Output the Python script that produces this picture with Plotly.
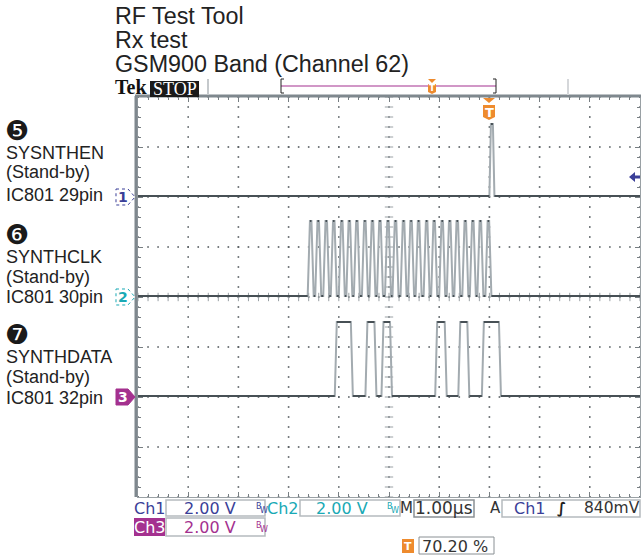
import plotly.graph_objects as go

W, H = 644, 558
LEFT, RIGHT, TOP, BOTTOM = 138, 640, 97, 497

# Time base in microseconds from the left graticule edge, vertical scale in divisions from the bottom
time_start, time_end = 0, 10
div_bottom, div_top = 0, 8

ch1_base, ch1_high = 6.02, 7.46
ch2_base, ch2_high = 4.02, 5.52
ch3_base, ch3_high = 2.02, 3.50

ch1_pulses = [(7.03, 7.07)]
ch2_pulses = [(c - 0.015, c + 0.015) for c in [
    3.44, 3.59, 3.75, 3.90, 4.06, 4.21, 4.36, 4.52, 4.67, 4.82, 4.98, 5.13,
    5.29, 5.44, 5.59, 5.75, 5.90, 6.06, 6.21, 6.36, 6.52, 6.67, 6.82, 6.98]]
ch3_pulses = [(3.96, 4.24), (4.57, 4.71), (4.89, 5.02), (5.96, 6.11), (6.42, 6.56), (6.89, 7.19)]

title_lines = ["RF Test Tool", "Rx test", "GSM900 Band (Channel 62)"]
ch_labels = [
    ("❺", "SYSNTHEN", "(Stand-by)", "IC801 29pin"),
    ("❻", "SYNTHCLK", "(Stand-by)", "IC801 30pin"),
    ("❼", "SYNTHDATA", "(Stand-by)", "IC801 32pin"),
]

BLUE, TEAL, MAG, ORANGE = "#3b3f98", "#19a9b5", "#a4318f", "#ee8b2e"
EDGE, TRACE, GRID, WALL = "#a3abb0", "#475055", "#6c7478", "#7f888e"
SANS, MONO, SERIF = "Liberation Sans", "DejaVu Sans", "Liberation Serif"


def px(x):
    return x / W


def py(y):
    return 1 - y / H


def waveform(pulses, base, high, rise):
    xs, ys = [time_start], [base]
    for a, b in pulses:
        xs += [a - rise, a, b, b + rise]
        ys += [base, high, high, base]
    xs.append(time_end)
    ys.append(base)
    return xs, ys


def flat_parts(xs, ys):
    ox, oy = [], []
    for i in range(len(xs) - 1):
        if ys[i] == ys[i + 1]:
            ox += [xs[i], xs[i + 1], None]
            oy += [ys[i], ys[i + 1], None]
    return ox, oy


fig = go.Figure()

# graticule dots: every fifth of a division along each division line
gx, gy = [], []
for d in range(0, 11):
    for k in range(0, 41):
        gx.append(d)
        gy.append(k / 5)
for d in range(0, 9):
    for k in range(0, 51):
        gx.append(k / 5)
        gy.append(d)
fig.add_trace(go.Scatter(x=gx, y=gy, mode="markers", hoverinfo="skip",
                         marker=dict(symbol="square", size=1.6, color="#555c60", line=dict(width=0))))

# centre-line graticule ticks
cx = [i / 5 for i in range(51)]
cy = [i / 5 for i in range(41)]
fig.add_trace(go.Scatter(x=cx, y=[4] * len(cx), mode="markers", hoverinfo="skip",
                         marker=dict(symbol="line-ns", size=6, line=dict(color="#9aa1a5", width=1))))
fig.add_trace(go.Scatter(x=[5] * len(cy), y=cy, mode="markers", hoverinfo="skip",
                         marker=dict(symbol="line-ew", size=6, line=dict(color="#9aa1a5", width=1))))

for pulses, base, high, rise in [
    (ch1_pulses, ch1_base, ch1_high, 0.03),
    (ch2_pulses, ch2_base, ch2_high, 0.045),
    (ch3_pulses, ch3_base, ch3_high, 0.04),
]:
    xs, ys = waveform(pulses, base, high, rise)
    fig.add_trace(go.Scatter(x=xs, y=ys, mode="lines", line=dict(color=EDGE, width=2), hoverinfo="skip"))
    fx, fy = flat_parts(xs, ys)
    fig.add_trace(go.Scatter(x=fx, y=fy, mode="lines", line=dict(color=TRACE, width=2), hoverinfo="skip"))

axis_common = dict(showgrid=False, zeroline=False, showticklabels=False, showline=True, linecolor="#9aa1a5",
                   linewidth=1, mirror="ticks", ticks="inside", ticklen=5, tickcolor="#777e82",
                   minor=dict(ticks="inside", ticklen=3, tickcolor="#777e82", showgrid=False))
xa = dict(axis_common, range=[time_start, time_end], domain=[px(LEFT), px(RIGHT)], dtick=1, tick0=0)
xa["minor"] = dict(axis_common["minor"], dtick=0.2)
ya = dict(axis_common, range=[div_bottom, div_top], domain=[py(BOTTOM), py(TOP)], dtick=1, tick0=0)
ya["minor"] = dict(axis_common["minor"], dtick=0.2)

shapes, ann = [], []


def line(x0, y0, x1, y1, color, width=1, dash=None):
    shapes.append(dict(type="line", xref="paper", yref="paper", x0=px(x0), y0=py(y0), x1=px(x1), y1=py(y1),
                       line=dict(color=color, width=width, dash=dash or "solid")))


def rect(x0, y0, x1, y1, fill="rgba(0,0,0,0)", color="rgba(0,0,0,0)", width=1):
    shapes.append(dict(type="rect", xref="paper", yref="paper", x0=px(x0), y0=py(y0), x1=px(x1), y1=py(y1),
                       fillcolor=fill, line=dict(color=color, width=width)))


def poly(points, fill, color="rgba(0,0,0,0)", width=1, dash=None):
    path = "M " + " L ".join(f"{px(a):.5f} {py(b):.5f}" for a, b in points) + " Z"
    shapes.append(dict(type="path", xref="paper", yref="paper", path=path, fillcolor=fill,
                       line=dict(color=color, width=width, dash=dash or "solid")))


def text(x, y, s, size, color="#222222", family=SANS, anchor="left", bold=False):
    ann.append(dict(xref="paper", yref="paper", x=px(x), y=py(y), text=f"<b>{s}</b>" if bold else s,
                    showarrow=False, xanchor=anchor, yanchor="middle", align=anchor,
                    font=dict(size=size, color=color, family=family), borderpad=0, borderwidth=0))


# frame walls
line(136, 96, 136, 497, WALL, 3)
line(135, 96, 641, 96, WALL, 3)
line(208, 79, 208, 95, "#c5c9cc", 2)
line(568, 79, 568, 95, "#d5d7da", 2)

# titles
for y, s in zip([16, 40, 64], title_lines):
    text(115, y, s, 23.3)

# record-view bracket
line(281, 86, 496, 86, MAG, 1.2)
line(281, 79, 281, 93, "#222222", 1)
line(281, 79, 284, 79, "#222222", 1)
line(281, 93, 284, 93, "#222222", 1)
line(496, 79, 496, 93, "#222222", 1)
line(493, 79, 496, 79, "#222222", 1)
line(493, 93, 496, 93, "#222222", 1)
poly([(428, 79), (436, 79), (432, 83)], ORANGE)
poly([(428, 84), (436, 84), (436, 92), (432, 94), (428, 92)], ORANGE)
text(432, 88.5, "T", 9, "white", MONO, "center", True)

# main trigger marker
poly([(483, 98), (495, 98), (489, 103)], ORANGE)
poly([(483, 105), (495, 105), (495, 117), (489, 120), (483, 117)], ORANGE)
text(489, 112, "T", 13, "white", MONO, "center", True)
poly([(629, 177), (635, 172), (635, 175.5), (640, 175.5), (640, 178.5), (635, 178.5), (635, 182)], BLUE)

# Tek STOP
text(115, 87, "Tek", 20, "#111111", SERIF, bold=True)
rect(150, 81, 199, 97, fill="#1a1a1a")
text(174.5, 89, "STOP", 18, "white", SERIF, "center")

# channel labels and markers
for (mark, a, b, c), ys in zip(ch_labels, [(131, 153, 172, 195), (235, 257, 277, 297), (335, 357, 377, 398)]):
    text(5, ys[0], mark, 27, "#1a1a1a", MONO)
    text(6, ys[1], a, 18)
    text(6, ys[2], b, 18)
    text(6, ys[3], c, 18)

for num, y, col, filled in [("1", 197, BLUE, False), ("2", 297, TEAL, False), ("3", 397, MAG, True)]:
    pts = [(116, y - 8), (128, y - 8), (135, y), (128, y + 8), (116, y + 8)]
    poly(pts, col if filled else "white", col, 1, None if filled else "dot")
    text(123, y, num, 14, "white" if filled else col, MONO, "center", True)

# readouts
BOX = "#b5bbbe"
rect(134, 518, 165, 536, fill=MAG)
rect(166, 500, 265, 516, fill="white", color=BOX, width=1.5)
rect(166, 518, 265, 536, fill="white", color=BOX, width=1.5)
rect(300, 500, 400, 516, fill="white", color=BOX, width=1.5)
rect(414, 500, 474, 517, fill="white", color="#8a9094", width=1.5)
rect(502, 500, 640, 517, fill="white", color=BOX, width=1.5)
rect(419, 537, 494, 554, fill="white", color="#8a9094", width=1)
rect(402, 539, 414, 553, fill=ORANGE)

text(134, 508, "Ch1", 16, BLUE, MONO)
text(210, 508, "2.00 V", 16, BLUE, MONO, "center")
text(256, 506, "B", 8, BLUE, MONO)
text(260, 510, "W", 8, BLUE, MONO)
text(267, 508, "Ch2", 16, TEAL, MONO)
text(342, 508, "2.00 V", 16, TEAL, MONO, "center")
text(387, 506, "B", 8, TEAL, MONO)
text(391, 510, "W", 8, TEAL, MONO)
text(134, 527, "Ch3", 16, "white", MONO)
text(210, 527, "2.00 V", 16, MAG, MONO, "center")
text(256, 525, "B", 8, MAG, MONO)
text(260, 529, "W", 8, MAG, MONO)
text(400, 508, "M", 15, "#333333", MONO)
text(444, 508, "1.00µs", 17, "#333333", MONO, "center")
text(490, 508, "A", 15, "#333333", MONO)
text(514, 508, "Ch1", 16, BLUE, MONO)
text(561, 508, "∫", 15, "#222222", MONO, "center", True)
text(640, 508, "840mV", 15.5, "#333333", MONO, "right")
text(408, 546, "T", 11, "white", MONO, "center", True)
text(422, 546, "70.20 %", 16, "#333333", MONO)

fig.update_layout(width=W, height=H, margin=dict(l=0, r=0, t=0, b=0), autosize=False, showlegend=False,
                  paper_bgcolor="white", plot_bgcolor="white", xaxis=xa, yaxis=ya, shapes=shapes, annotations=ann)
fig.write_html("out.html", config=dict(displayModeBar=False),
               post_script="document.body.style.margin='0';")
